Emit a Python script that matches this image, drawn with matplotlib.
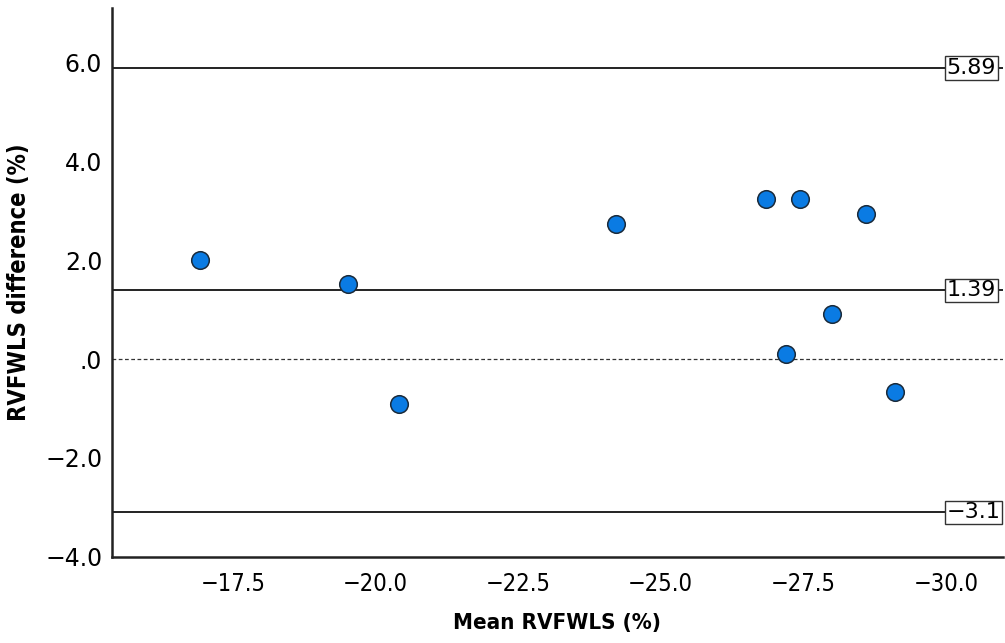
import matplotlib
matplotlib.use("Agg")
import matplotlib.pyplot as plt
from matplotlib.ticker import FixedLocator

# Bland-Altman data: mean of the two RVFWLS measurements vs. their difference
mean_rvfwls = [-16.92, -19.51, -20.42, -24.21, -26.85, -27.45, -28.60, -28.01, -27.20, -29.11]
diff_rvfwls = [2.00, 1.52, -0.91, 2.73, 3.23, 3.23, 2.93, 0.91, 0.10, -0.67]

upper_loa = 5.89
mean_diff = 1.39
lower_loa = -3.1
line_labels = ["5.89", "1.39", "\u22123.1"]

x_ticks = [-17.5, -20.0, -22.5, -25.0, -27.5, -30.0]
x_ticklabels = ["\u221217.5", "\u221220.0", "\u221222.5", "\u221225.0", "\u221227.5", "\u221230.0"]
y_ticks = [-4.0, -2.0, 0.0, 2.0, 4.0, 6.0]
y_ticklabels = ["\u22124.0", "\u22122.0", ".0", "2.0", "4.0", "6.0"]

fig = plt.figure(figsize=(10.05, 6.43), dpi=100)
ax = fig.add_axes([0.1114, 0.134, 0.8866, 0.8536])

ax.set_xlim(-15.38, -31.0)
ax.set_ylim(-4.0, 7.1)

# reference lines with boxed value labels at the right end
for val, lab in zip([upper_loa, mean_diff, lower_loa], line_labels):
    ax.axhline(val, color="#222222", lw=1.4, zorder=1)
    ax.text(0.9365, val, lab, transform=ax.get_yaxis_transform(), ha="left", va="center",
            fontsize=16, color="black", zorder=5,
            bbox=dict(boxstyle="square,pad=0.08", fc="white", ec="#333333", lw=1.0))
ax.axhline(0.0, color="#333333", lw=0.9, ls=(0, (3, 2)), zorder=1)

ax.scatter(mean_rvfwls, diff_rvfwls, s=160, color="#0A7BE3", edgecolor="#1a2a3a",
           linewidth=1.1, zorder=4)

for side in ["top", "right"]:
    ax.spines[side].set_visible(False)
for side in ["left", "bottom"]:
    ax.spines[side].set_linewidth(1.8)
    ax.spines[side].set_color("#222222")

ax.xaxis.set_major_locator(FixedLocator(x_ticks))
ax.set_xticklabels(x_ticklabels, fontsize=17, fontstretch="condensed")
ax.yaxis.set_major_locator(FixedLocator(y_ticks))
ax.set_yticklabels(y_ticklabels, fontsize=17)
ax.tick_params(axis="y", length=0, pad=7)
ax.tick_params(axis="x", length=0, pad=11)

ax.set_xlabel("Mean RVFWLS (%)", fontsize=16, fontweight="bold", fontstretch="condensed", labelpad=12)
ax.set_ylabel("RVFWLS difference (%)", fontsize=17, fontweight="bold", fontstretch="condensed", labelpad=10)

fig.savefig("out.png", dpi=100)
